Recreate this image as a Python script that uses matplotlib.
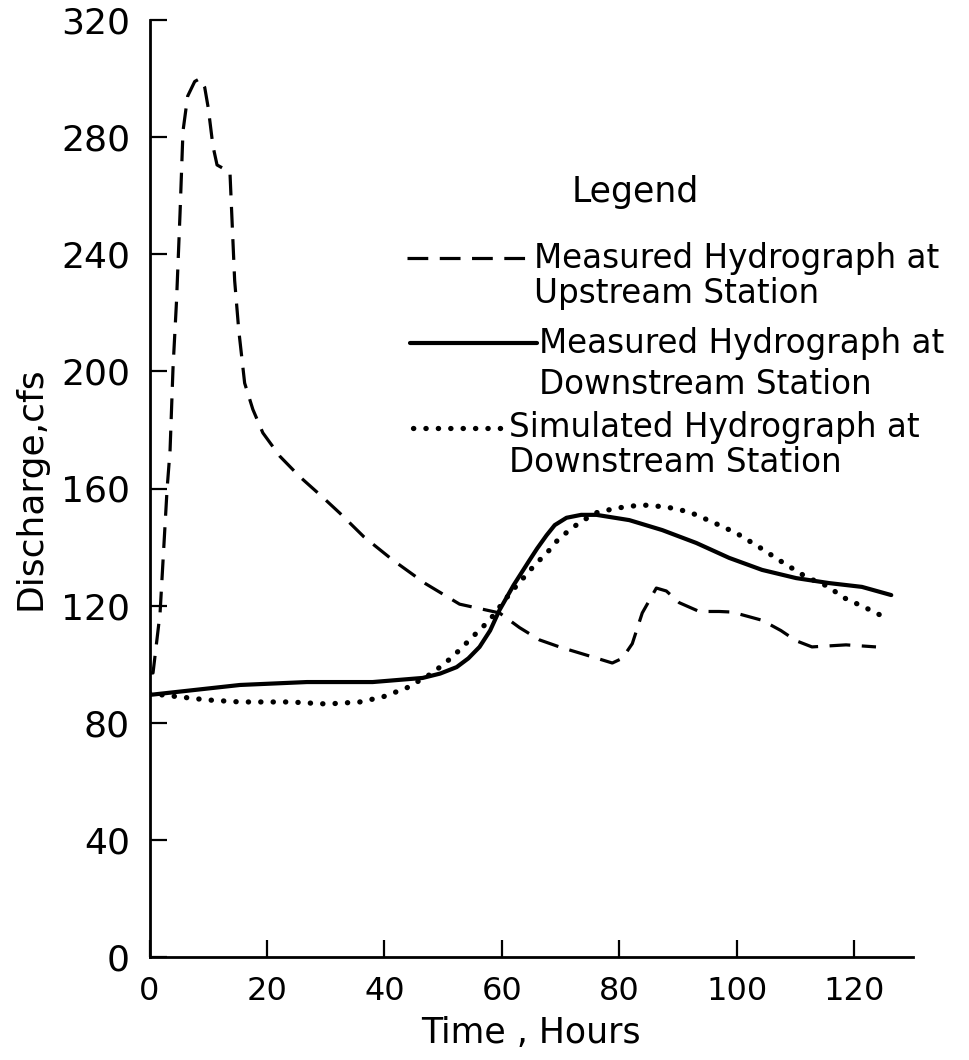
import matplotlib

matplotlib.use("Agg")
import matplotlib.pyplot as plt
from matplotlib.lines import Line2D

# Measured hydrograph at the upstream station (hours, cfs)
up_hours = [0, 0.6, 1.8, 3.0, 3.5, 4.0, 4.6, 5.2, 5.7, 6.5, 7.7, 8.6, 9.4, 10.0,
            10.8, 11.5, 13.7, 14.0, 14.5, 15.2, 16.2, 17.6, 19.3, 22.2, 25.6,
            29.5, 32.4, 36.5, 41.4, 47.0, 52.8, 56.2, 59.6, 63.0, 66.4, 69.8,
            75.4, 78.8, 80.5, 82.2, 83.9, 86.3, 88.0, 90.2, 93.6, 97.0, 99.2,
            104.3, 107.5, 110.1, 112.8, 118.6, 123.7]
up_cfs = [97, 97, 117.5, 160, 173, 201, 224, 254, 282, 294, 299, 300, 297, 290,
          277, 270.5, 268, 254, 231, 214, 196, 187, 179, 171, 164,
          157, 151.6, 143.5, 135.6, 127.5, 120.5, 119, 117.5, 112.5, 108.3, 105.9,
          102.5, 100.4, 102, 107, 117.5, 126, 125, 121, 118, 118, 117.8,
          115, 111.5, 108, 105.9, 106.6, 105.9]

# Measured hydrograph at the downstream station
down_hours = [0, 15.4, 26.8, 38.0, 46.5, 49.5, 52.3, 54.3, 56.2, 58.0, 59.6,
              62.0, 64.7, 66.0, 67.6, 69.0, 71.0, 73.5, 76.1, 81.7, 87.3, 93.1,
              98.7, 104.3, 110.1, 115.7, 121.3, 126.3]
down_cfs = [89.5, 92.9, 93.9, 93.9, 95.3, 96.8, 99, 102, 105.9, 111.5, 118.5,
            127, 135.5, 139.5, 144, 147.5, 150, 151, 151, 149.2, 145.8, 141.4,
            136.3, 132.2, 129.4, 127.7, 126.4, 123.6]

# Simulated hydrograph at the downstream station
sim_hours = [0, 3.9, 9.8, 15.4, 23.9, 30.2, 35.8, 39.7, 43.8, 48.2, 51.6, 55.7,
             57.9, 61.5, 65.6, 67.8, 69.5, 71.9, 75.8, 79.5, 83.8, 88.0, 91.9,
             95.8, 99.9, 103.8, 107.7, 111.8, 115.7, 117.9, 122.0, 125.4]
sim_cfs = [90, 89.1, 87.8, 87.1, 87.1, 86.4, 87.1, 88.8, 91.9, 97, 102.5, 110.7,
           115, 124.5, 133.9, 138.3, 142.4, 146.5, 151.6, 153.3, 154.4, 153.7,
           152, 148.6, 144.8, 140, 134.9, 129.8, 126.4, 123, 119.2, 115.8]

x_ticks = [0, 20, 40, 60, 80, 100, 120]
y_ticks = [0, 40, 80, 120, 160, 200, 240, 280, 320]

DASH = dict(color="black", lw=2.3, linestyle=(0, (6.5, 3.6)),
            solid_joinstyle="round")
SOLID = dict(color="black", lw=3.0, linestyle="-", solid_joinstyle="round",
             solid_capstyle="round")
DOT = dict(color="black", lw=3.8, linestyle=(0, (0.05, 2.3)),
           dash_capstyle="round")

W, H = 970, 1060
fig = plt.figure(figsize=(W / 100, H / 100), dpi=100)
fig.patch.set_facecolor("white")
ax = fig.add_axes([149.5 / W, 1 - 957 / H, (913 - 149.5) / W, (957 - 20) / H])

ax.plot(up_hours, up_cfs, **DASH)
ax.plot(down_hours, down_cfs, **SOLID)
ax.plot(sim_hours, sim_cfs, **DOT)

ax.set_xlim(0, 130)
ax.set_ylim(0, 320)
for side in ("top", "right"):
    ax.spines[side].set_visible(False)
for side in ("left", "bottom"):
    ax.spines[side].set_linewidth(2.0)

ax.set_xticks(x_ticks)
ax.set_yticks(y_ticks)
ax.set_xticklabels([str(v) for v in x_ticks], fontsize=23)
ax.set_yticklabels([str(v) for v in y_ticks], fontsize=26)
ax.tick_params(axis="both", direction="in", length=12, width=1.6)
ax.tick_params(axis="x", pad=14)
ax.tick_params(axis="y", pad=14)

ax.set_xlabel("Time , Hours", fontsize=25, labelpad=6)
ax.set_ylabel("Discharge,cfs", fontsize=26, labelpad=10)

# legend drawn by hand: sample line to the left, two-line caption to the right
def fx(px):
    return px / W


def fy(py):
    return 1 - py / H


fig.text(fx(635), fy(192), "Legend", fontsize=25, ha="center", va="center")

entries = [
    (407, 532, 258, DASH, ["Measured Hydrograph at", "Upstream Station"], [258, 293]),
    (410, 537, 343, SOLID, ["Measured Hydrograph at", "Downstream Station"], [343, 385]),
    (413, 507, 428, DOT, ["Simulated Hydrograph at", "Downstream Station"], [428, 462]),
]
for x0, x1, ly, style, lines, ys in entries:
    fig.add_artist(Line2D([fx(x0), fx(x1)], [fy(ly), fy(ly)],
                          transform=fig.transFigure, **style))
    for text, ty in zip(lines, ys):
        fig.text(fx(x1 + 2), fy(ty), text, fontsize=23.5, ha="left", va="center")

fig.savefig("out.png", dpi=100)
